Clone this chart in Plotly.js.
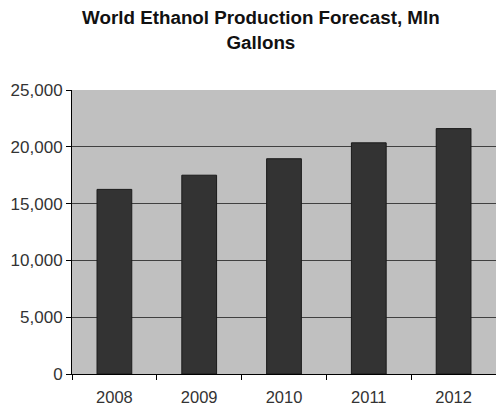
<!DOCTYPE html>
<html>
<head>
<meta charset="utf-8">
<script src="https://cdn.plot.ly/plotly-3.0.1.min.js"></script>
<style>html,body{margin:0;padding:0;background:#fff;}#chart{width:496px;height:406px;}</style>
</head>
<body>
<div id="chart"></div>
<script>
const years = ["2008", "2009", "2010", "2011", "2012"];
const production = [16250, 17500, 18950, 20350, 21600];
const yTickVals = [0, 5000, 10000, 15000, 20000, 25000];
const yTickText = ["0", "5,000", "10,000", "15,000", "20,000", "25,000"];

const trace = {
  type: "bar",
  x: years,
  y: production,
  marker: {color: "#333333", line: {color: "#1a1a1a", width: 1}},
  hoverinfo: "x+y"
};

const layout = {
  width: 496,
  height: 406,
  margin: {l: 72, r: 0, t: 90, b: 32},
  paper_bgcolor: "#ffffff",
  plot_bgcolor: "#c0c0c0",
  bargap: 0.59,
  showlegend: false,
  title: {
    text: "<b>World Ethanol Production Forecast, Mln<br>Gallons</b>",
    font: {family: "Liberation Sans, Arial, sans-serif", size: 18.8, color: "#111111"},
    xref: "container", x: 0.526, xanchor: "center",
    yref: "container", y: 0.94, yanchor: "top"
  },
  font: {family: "Liberation Sans, Arial, sans-serif", size: 17, color: "#333333"},
  xaxis: {
    type: "category",
    showline: true, linecolor: "#000000", linewidth: 1,
    ticks: "outside", ticklen: 5, tickcolor: "#000000",
    tickson: "boundaries",
    showgrid: false,
    ticklabelstandoff: 8,
    tickfont: {size: 16.5, color: "#333333"}
  },
  yaxis: {
    range: [0, 25000],
    tickvals: yTickVals, ticktext: yTickText,
    showline: true, linecolor: "#000000", linewidth: 1,
    ticks: "outside", ticklen: 5, tickcolor: "#000000",
    showgrid: true, gridcolor: "#404040", gridwidth: 1,
    zeroline: false,
    tickfont: {size: 17, color: "#333333"}
  }
};

Plotly.newPlot("chart", [trace], layout, {displayModeBar: false, staticPlot: true});
</script>
</body>
</html>
